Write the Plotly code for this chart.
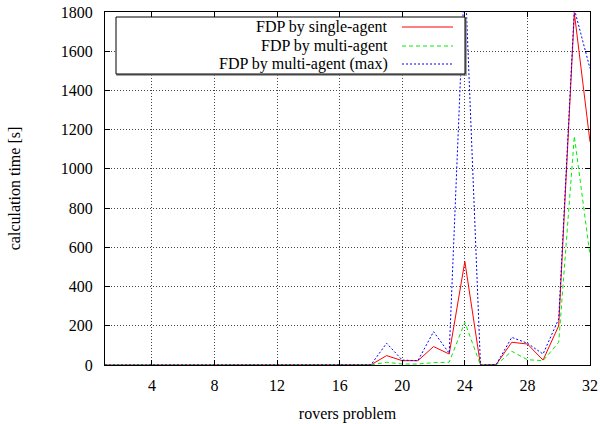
import plotly.graph_objects as go

problems = list(range(1, 33))
single_agent = [0, 0, 0, 0, 0, 0, 0, 0, 0, 0, 0, 0, 0, 0, 0, 0, 0.5, 1,
                48, 22, 22, 94, 56, 528, 0, 2, 116, 107, 25, 200, 1795, 1138]
multi_agent = [0, 0, 0, 0, 0, 0, 0, 0, 0, 0, 0, 0, 0, 0, 0, 0, 0.2, 0.5,
               14, 5, 5, 12, 14, 218, 0, 0, 70, 27, 22, 116, 1167, 559]
multi_agent_max = [0, 0, 0, 0, 0, 0, 0, 0, 0, 0, 0, 0, 0, 0, 0, 0, 0.5, 1,
                   111, 25, 22, 170, 60, 2010, 0, 2, 141, 111, 56, 235, 1815, 1512]
series_names = ["FDP by single-agent", "FDP by multi-agent", "FDP by multi-agent (max)"]
x_ticks = [4, 8, 12, 16, 20, 24, 28, 32]
y_ticks = [0, 200, 400, 600, 800, 1000, 1200, 1400, 1600, 1800]

W, H = 600, 424
L, R, T, B = 105, 590, 12, 365
FONT = "Liberation Serif"
FS = 16

def px(x):
    return (x - L) / (R - L)

def py(y):
    return (B - y) / (B - T)

styles = [dict(color="#ff0000", width=1, dash="solid"),
          dict(color="#00ee00", width=1, dash="4px,3px"),
          dict(color="#0000ff", width=1, dash="2px,2px")]

fig = go.Figure()
for name, vals, st in zip(series_names, [single_agent, multi_agent, multi_agent_max], styles):
    fig.add_trace(go.Scatter(x=problems, y=vals, mode="lines", name=name,
                             line=st, showlegend=False, hoverinfo="skip"))

axis_common = dict(showline=True, linecolor="black", linewidth=1, mirror="allticks",
                   ticks="inside", ticklen=5, tickcolor="black", automargin=False,
                   showgrid=True, gridcolor="#444444", griddash="1px,2px", gridwidth=1,
                   zeroline=False, tickfont=dict(family=FONT, size=FS, color="black"))

fig.update_xaxes(range=[1, 32], tickvals=x_ticks, ticklabelstandoff=6,
                 title=dict(text="rovers problem", font=dict(family=FONT, size=FS, color="black"),
                            standoff=14),
                 **axis_common)
fig.update_yaxes(range=[0, 1800], tickvals=y_ticks, ticklabelstandoff=8,
                 title=dict(text="calculation time [s]", font=dict(family=FONT, size=FS, color="black"),
                            standoff=36),
                 **axis_common)

# custom gnuplot-style legend
shapes = []
shapes.append(dict(type="rect", xref="paper", yref="paper",
                   x0=px(117), x1=px(466), y0=py(75), y1=py(18),
                   line=dict(color="#888888", width=1.5), fillcolor="#888888"))
shapes.append(dict(type="rect", xref="paper", yref="paper",
                   x0=px(116), x1=px(465), y0=py(74), y1=py(17),
                   line=dict(color="black", width=1), fillcolor="white"))
rows = [27, 46, 64]
annotations = []
for name, st, ry in zip(series_names, styles, rows):
    shapes.append(dict(type="line", xref="paper", yref="paper",
                       x0=px(402), x1=px(453), y0=py(ry), y1=py(ry), line=st))
    annotations.append(dict(text=name, xref="paper", yref="paper", x=px(390), y=py(ry),
                            xanchor="right", yanchor="middle", showarrow=False,
                            font=dict(family=FONT, size=FS, color="black")))

fig.update_layout(width=W, height=H, margin=dict(l=L, r=W - R, t=T, b=H - B),
                  plot_bgcolor="white", paper_bgcolor="white",
                  shapes=shapes, annotations=annotations,
                  font=dict(family=FONT, color="black"))

fig.write_html("out.html", config={"displayModeBar": False},
               post_script="document.body.style.margin='0';document.body.style.overflow='hidden';")
